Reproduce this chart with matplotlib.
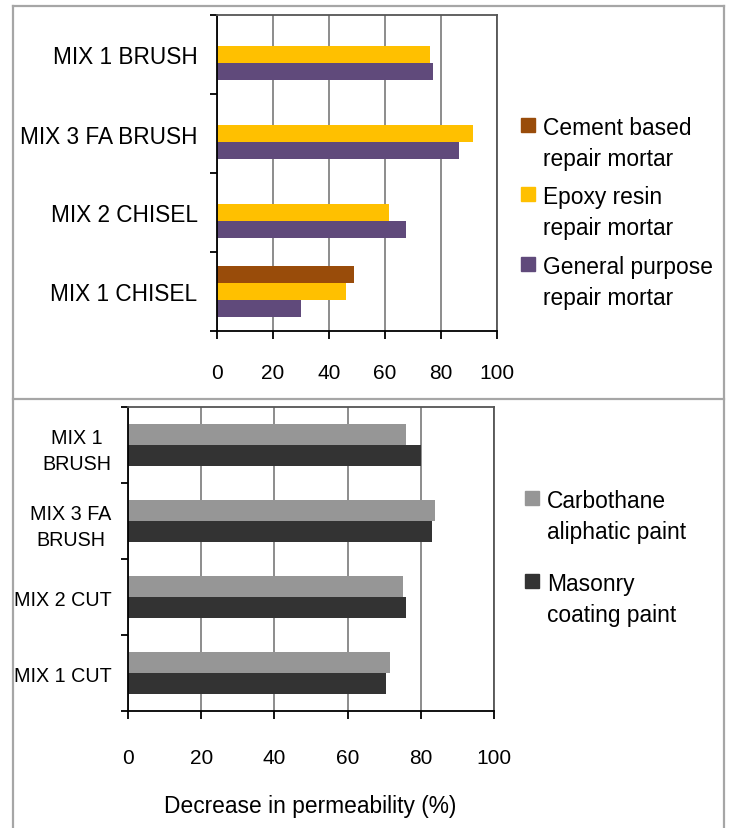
import numpy as np
import matplotlib
matplotlib.use("Agg")
import matplotlib.pyplot as plt
from matplotlib.patches import Rectangle
from matplotlib.lines import Line2D

plt.rcParams['font.family'] = ['Liberation Sans', 'DejaVu Sans']

# ---- data (top panel: repair mortars) ----
top_cats = ['MIX 1 BRUSH', 'MIX 3 FA BRUSH', 'MIX 2 CHISEL', 'MIX 1 CHISEL']
cement_based = [np.nan, np.nan, np.nan, 49]
epoxy_resin = [76, 91.5, 61.5, 46]
general_purpose = [77, 86.5, 67.5, 30]
top_labels = ['Cement based\nrepair mortar', 'Epoxy resin\nrepair mortar',
              'General purpose\nrepair mortar']

# ---- data (bottom panel: paints) ----
bot_cats = ['MIX 1\nBRUSH', 'MIX 3 FA\nBRUSH', 'MIX 2 CUT', 'MIX 1 CUT']
carbothane = [76, 84, 75, 71.5]
masonry = [80, 83, 76, 70.5]
bot_labels = ['Carbothane\naliphatic paint', 'Masonry\ncoating paint']

x_ticks = [0, 20, 40, 60, 80, 100]

c_brown = '#994C0A'
c_yellow = '#FFC000'
c_purple = '#604A7B'
c_gray = '#969696'
c_dark = '#333333'

W, H = 729, 829
fig = plt.figure(figsize=(W / 100, H / 100), dpi=100)


def fx(px):
    return px / W


def fy(py):
    return 1 - py / H


def style_axes(ax, ncat, labels, lab_size, ypad, xpad):
    ax.set_xlim(0, 100)
    ax.set_ylim(ncat, 0)
    ax.set_xticks(x_ticks)
    ax.set_xticklabels([str(v) for v in x_ticks], fontsize=15)
    ax.set_yticks(np.arange(ncat + 1))
    ax.set_yticklabels([])
    ax.set_yticks(np.arange(ncat) + 0.5, minor=True)
    ax.set_yticklabels(labels, minor=True, fontsize=lab_size,
                       multialignment='center', linespacing=1.45)
    ax.tick_params(axis='y', which='major', length=5, width=1.3, direction='out')
    ax.tick_params(axis='y', which='minor', length=0, pad=ypad)
    ax.tick_params(axis='x', length=6, width=1.3, direction='out', pad=xpad)
    ax.grid(axis='x', color='#8C8C8C', linewidth=1.4)
    ax.set_axisbelow(True)
    for s in ax.spines.values():
        s.set_linewidth(1.3)
        s.set_color('black')
    ax.spines['top'].set_color('#555555')
    ax.spines['right'].set_color('#555555')


# ---- top panel ----
ax1 = fig.add_axes([fx(217), fy(332), fx(497) - fx(217), fy(16) - fy(332)])
yc = np.arange(len(top_cats)) + 0.5
bh = 0.215
ax1.barh(yc - bh, cement_based, height=bh, color=c_brown)
ax1.barh(yc, epoxy_resin, height=bh, color=c_yellow)
ax1.barh(yc + bh, general_purpose, height=bh, color=c_purple)
style_axes(ax1, len(top_cats), top_cats, 16.3, 14, 17)

# ---- bottom panel ----
ax2 = fig.add_axes([fx(128), fy(712), fx(494) - fx(128), fy(408) - fy(712)])
yc2 = np.arange(len(bot_cats)) + 0.5
bh2 = 0.275
ax2.barh(yc2 - bh2 / 2, carbothane, height=bh2, color=c_gray)
ax2.barh(yc2 + bh2 / 2, masonry, height=bh2, color=c_dark)
style_axes(ax2, len(bot_cats), bot_cats, 14.2, 12, 21)
fig.text(fx(310), fy(807), 'Decrease in permeability (%)', fontsize=16.4,
         ha='center', va='center')


# ---- legends drawn by hand (marker sits on first line of label) ----
def legend_entry(x_sq, y_sq, color, text, size=16.4):
    fig.add_artist(Rectangle((fx(x_sq), fy(y_sq + 14)), fx(14), 14 / H,
                             transform=fig.transFigure, color=color))
    fig.text(fx(x_sq + 22), fy(y_sq - 2), text, fontsize=size, va='top',
             ha='left', linespacing=1.45)


for y, col, lab in zip([119, 188, 258], [c_brown, c_yellow, c_purple], top_labels):
    legend_entry(521, y, col, lab)
for y, col, lab in zip([492, 575], [c_gray, c_dark], bot_labels):
    legend_entry(525, y, col, lab)

# ---- outer frame lines ----
fc = '#A6A6A6'
for xs, ys in [([13, 13], [7, 829]), ([724, 724], [7, 829]),
               ([13, 724], [7, 7]), ([13, 724], [400, 400])]:
    fig.add_artist(Line2D([fx(v) for v in xs], [fy(v) for v in ys],
                          transform=fig.transFigure, color=fc, linewidth=1.6))

fig.savefig('out.png', dpi=100)
